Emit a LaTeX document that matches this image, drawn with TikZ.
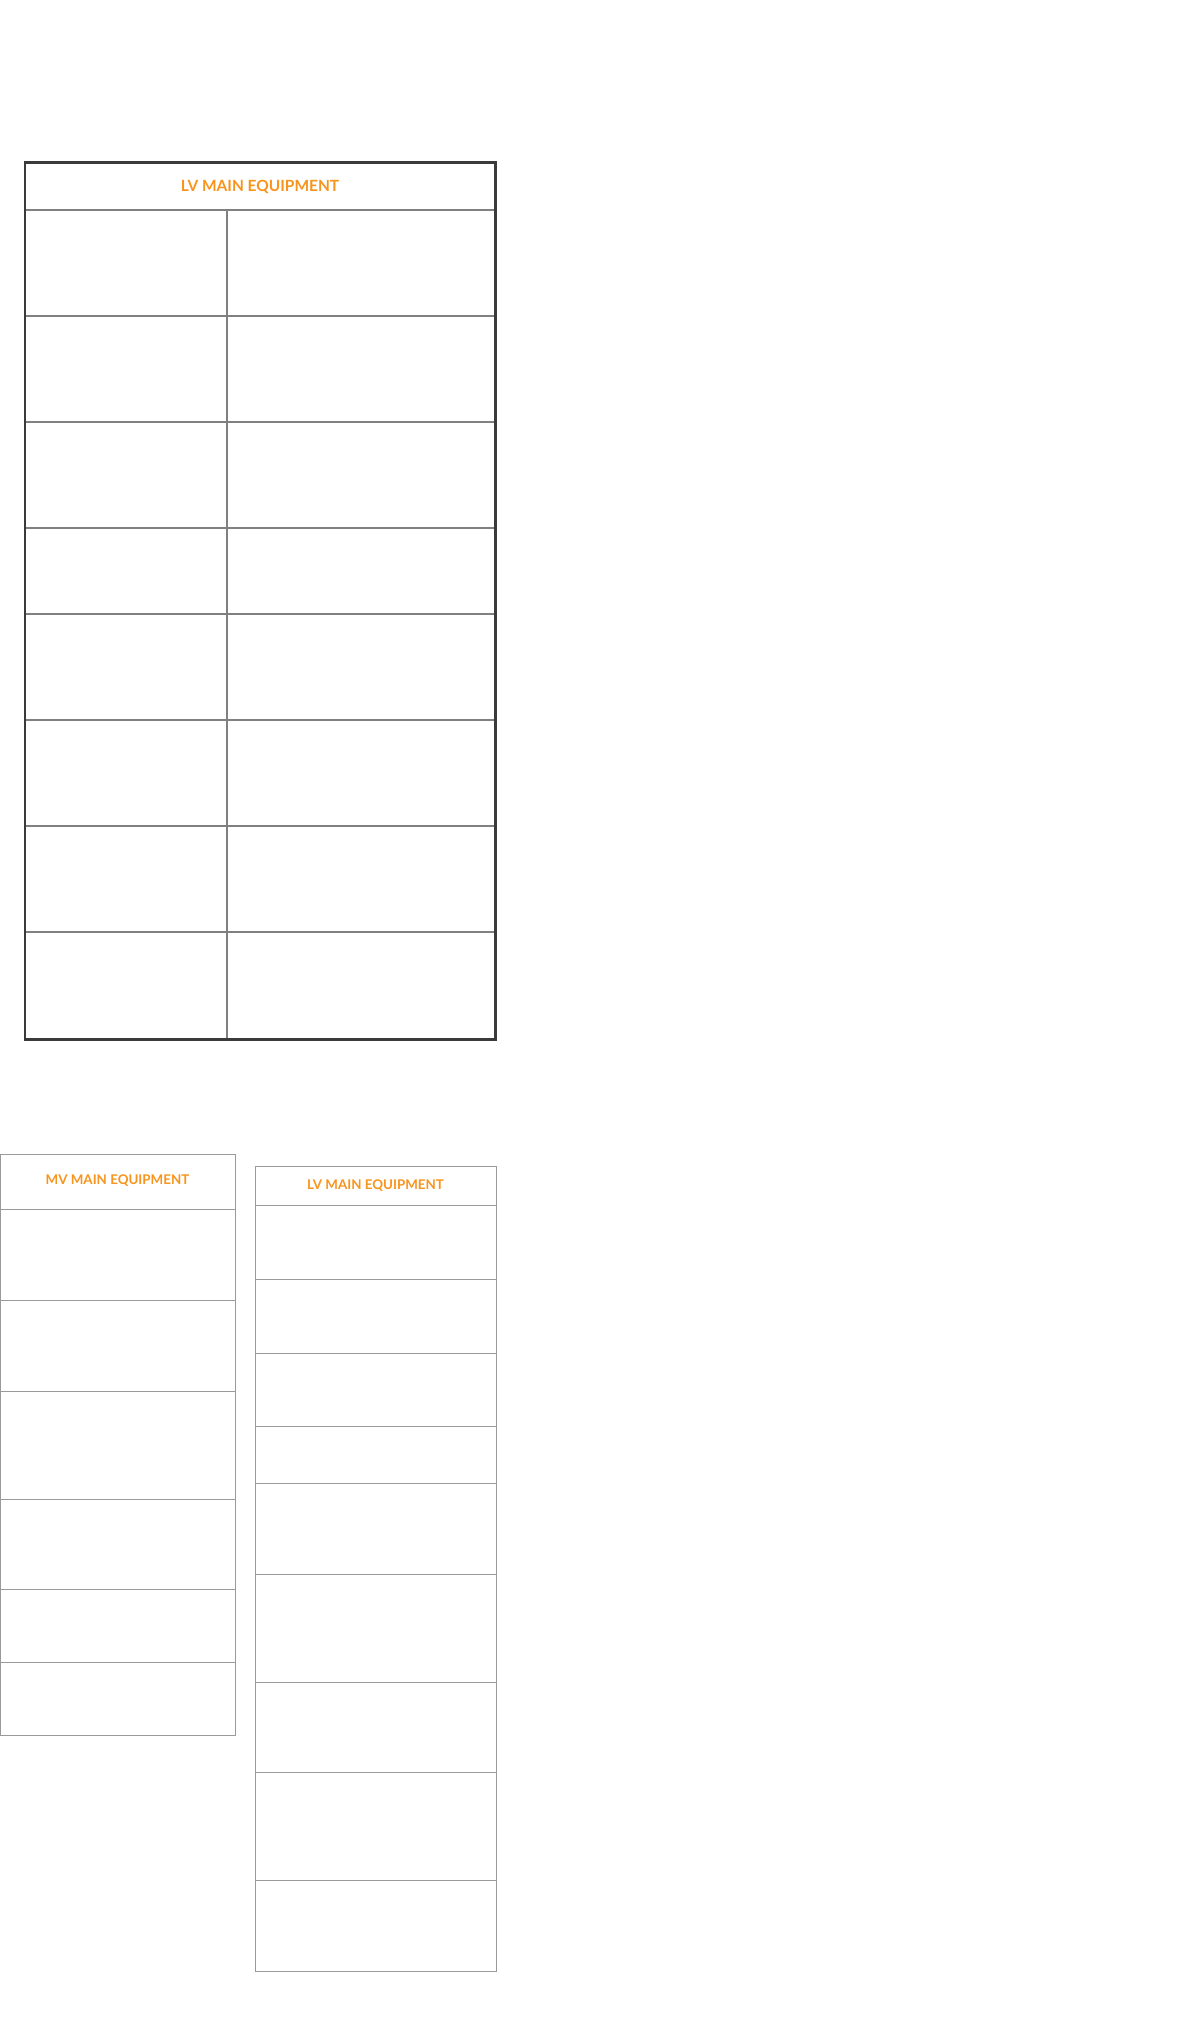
\documentclass[tikz,border=0pt]{standalone}
\usepackage{fontspec}
\setmainfont{Lato}
\definecolor{headOrange}{HTML}{F7941D}
\definecolor{frameDark}{HTML}{3A3A3A}
\definecolor{lineGray}{HTML}{808080}
\definecolor{lightGray}{HTML}{9A9A9A}
\begin{document}
\begin{tikzpicture}[x=0.01cm, y=-0.01cm,
	headtext/.style = {text = headOrange, font = \fontsize{4.4}{5}\selectfont\bfseries, inner sep = 0},
	smallhead/.style = {headtext, font = \fontsize{3.8}{4.5}\selectfont\bfseries},
	thickrule/.style = {lineGray, line width = 0.75pt},
	thinrule/.style = {lightGray, line width = 0.25pt}]

	% page
	\useasboundingbox (0,0) rectangle (1200,2043);

	% upper table, LV
	\def \topLeft {25};
	\def \topRight {495};
	\def \topSplit {227};
	\draw [thickrule] (\topLeft,210) -- (\topRight,210);
	\foreach \rowY in {316, 422, 528, 614, 720, 826, 932} {
		\draw [thickrule] (\topLeft,\rowY) -- (\topRight,\rowY);
	}
	\draw [thickrule] (\topSplit,210) -- (\topSplit,1039);
	\draw [frameDark, line width = 0.85pt] (\topLeft,163) rectangle (\topRight,1039);
	\node [headtext] (lvHeadTop) at ({(\topLeft + \topRight) / 2}, 187) {LV MAIN EQUIPMENT};

	% lower left table, MV
	\foreach \rowY in {1209, 1300, 1391, 1499, 1589, 1662} {
		\draw [thinrule] (0,\rowY) -- (235,\rowY);
	}
	\draw [thinrule] (0.5,1154) rectangle (235,1735);
	\node [smallhead] (mvHead) at (117.5, 1181) {MV MAIN EQUIPMENT};

	% lower right table, LV
	\foreach \rowY in {1205, 1279, 1353, 1426, 1483, 1574, 1682, 1772, 1880} {
		\draw [thinrule] (255,\rowY) -- (496,\rowY);
	}
	\draw [thinrule] (255,1166) rectangle (496,1971);
	\node [smallhead] (lvHeadLow) at (375.5, 1185.5) {LV MAIN EQUIPMENT};

\end{tikzpicture}
\end{document}
